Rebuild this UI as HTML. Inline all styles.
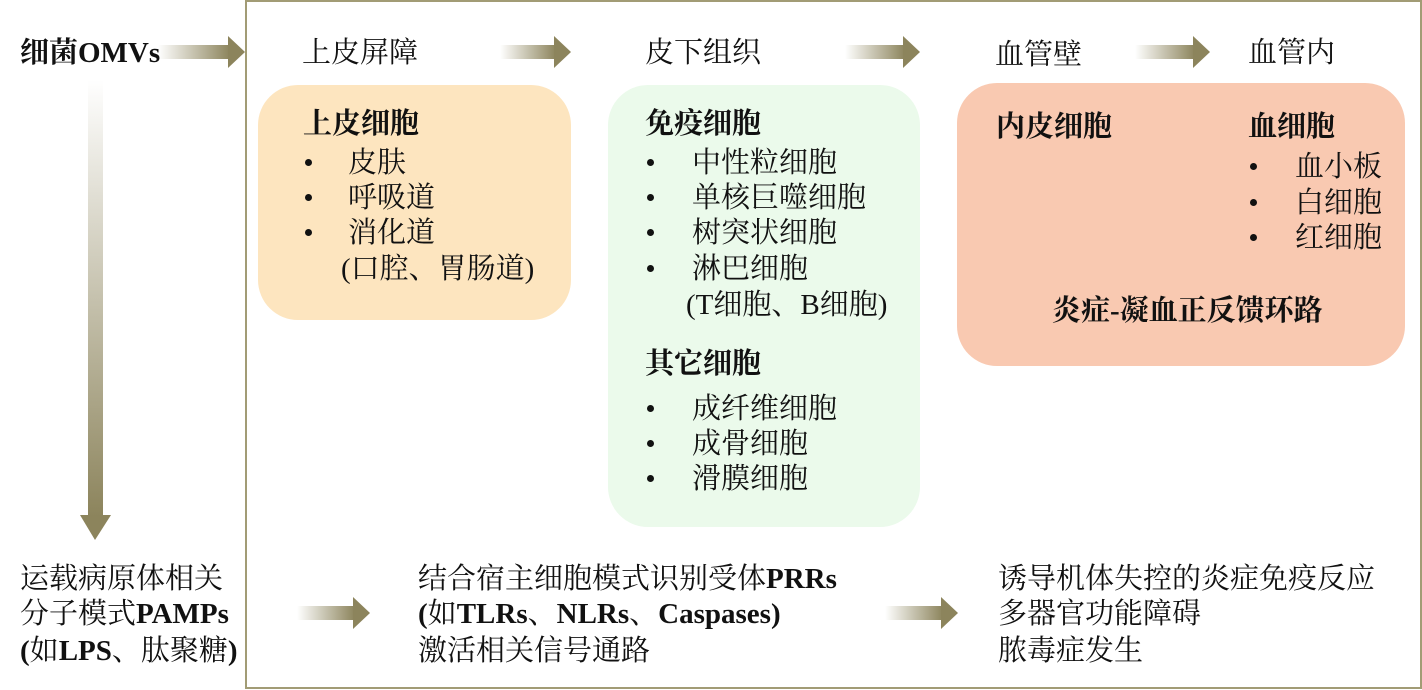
<!DOCTYPE html>
<html><head><meta charset="utf-8"><style>
body{margin:0;width:1422px;height:690px;background:#fff;position:relative;overflow:hidden;font-family:"Liberation Serif","Noto Serif CJK SC",serif;font-size:29px;color:#111}
.t{position:absolute;white-space:nowrap;line-height:34px}
.b{font-weight:bold}
.box{position:absolute;border-radius:40px}
.dot{position:absolute;width:7px;height:7px;border-radius:50%;background:#111}
</style></head><body>
<div style="position:absolute;left:245px;top:0;width:1173px;height:685px;border:2px solid #a29c75"></div>
<div class="box" style="left:258px;top:85px;width:313px;height:235px;background:#fde5bf"></div>
<div class="box" style="left:608px;top:85px;width:312px;height:442px;background:#ebfaeb"></div>
<div class="box" style="left:957px;top:83px;width:448px;height:283px;background:#f9c9b1"></div>
<svg style="position:absolute;left:0;top:0" width="1422" height="690">
<defs>
<linearGradient id="gh" x1="0" x2="1" y1="0" y2="0"><stop offset="0" stop-color="#fff"/><stop offset="1" stop-color="#8c845c"/></linearGradient>
<linearGradient id="gv" x1="0" x2="0" y1="0" y2="1"><stop offset="0" stop-color="#fff"/><stop offset="1" stop-color="#8c845c"/></linearGradient>
</defs>
<g fill="#8c845c">
<rect x="158" y="45" width="72" height="14" fill="url(#gh)"/><polygon points="228,36 245,52 228,68"/>
<rect x="500" y="45" width="56" height="14" fill="url(#gh)"/><polygon points="554,36 571,52 554,68"/>
<rect x="845" y="45" width="60" height="14" fill="url(#gh)"/><polygon points="903,36 920,52 903,68"/>
<rect x="1135" y="45" width="60" height="14" fill="url(#gh)"/><polygon points="1193,36 1210,52 1193,68"/>
<rect x="297" y="606" width="58" height="14" fill="url(#gh)"/><polygon points="353,597 370,613 353,629"/>
<rect x="885" y="606" width="58" height="14" fill="url(#gh)"/><polygon points="941,597 958,613 941,629"/>
<rect x="88" y="80" width="15" height="437" fill="url(#gv)"/><polygon points="80,515 111,515 95,540"/>
</g>
</svg>
<div class="t b" style="left:20px;top:36px">细菌OMVs</div>
<div class="t" style="left:302px;top:36px">上皮屏障</div>
<div class="t" style="left:645px;top:36px">皮下组织</div>
<div class="t" style="left:995px;top:38px">血管壁</div>
<div class="t" style="left:1248px;top:36px">血管内</div>

<div class="t b" style="left:303px;top:107px">上皮细胞</div>
<div class="dot" style="left:305px;top:159px"></div><div class="t" style="left:348px;top:146px">皮肤</div>
<div class="dot" style="left:305px;top:194px"></div><div class="t" style="left:348px;top:181px">呼吸道</div>
<div class="dot" style="left:305px;top:229px"></div><div class="t" style="left:348px;top:216px">消化道</div>
<div class="t" style="left:341px;top:252px">(口腔、胃肠道)</div>

<div class="t b" style="left:645px;top:107px">免疫细胞</div>
<div class="dot" style="left:647px;top:159px"></div><div class="t" style="left:692px;top:146px">中性粒细胞</div>
<div class="dot" style="left:647px;top:194px"></div><div class="t" style="left:692px;top:181px">单核巨噬细胞</div>
<div class="dot" style="left:647px;top:229px"></div><div class="t" style="left:692px;top:216px">树突状细胞</div>
<div class="dot" style="left:647px;top:265px"></div><div class="t" style="left:692px;top:252px">淋巴细胞</div>
<div class="t" style="left:686px;top:288px">(T细胞、B细胞)</div>
<div class="t b" style="left:645px;top:347px">其它细胞</div>
<div class="dot" style="left:647px;top:405px"></div><div class="t" style="left:692px;top:392px">成纤维细胞</div>
<div class="dot" style="left:647px;top:440px"></div><div class="t" style="left:692px;top:427px">成骨细胞</div>
<div class="dot" style="left:647px;top:475px"></div><div class="t" style="left:692px;top:462px">滑膜细胞</div>

<div class="t b" style="left:996px;top:110px">内皮细胞</div>
<div class="t b" style="left:1248px;top:110px">血细胞</div>
<div class="dot" style="left:1250px;top:163px"></div><div class="t" style="left:1295px;top:150px">血小板</div>
<div class="dot" style="left:1250px;top:199px"></div><div class="t" style="left:1295px;top:186px">白细胞</div>
<div class="dot" style="left:1250px;top:234px"></div><div class="t" style="left:1295px;top:221px">红细胞</div>
<div class="t b" style="left:1052px;top:294px">炎症-凝血正反馈环路</div>

<div class="t" style="left:20px;top:562px">运载病原体相关</div>
<div class="t" style="left:20px;top:597px">分子模式<b>PAMPs</b></div>
<div class="t" style="left:20px;top:634px"><b>(</b>如<b>LPS</b>、肽聚糖<b>)</b></div>
<div class="t" style="left:418px;top:562px">结合宿主细胞模式识别受体<b>PRRs</b></div>
<div class="t" style="left:418px;top:597px"><b>(</b>如<b>TLRs</b>、<b>NLRs</b>、<b>Caspases)</b></div>
<div class="t" style="left:418px;top:634px">激活相关信号通路</div>
<div class="t" style="left:998px;top:562px">诱导机体失控的炎症免疫反应</div>
<div class="t" style="left:998px;top:597px">多器官功能障碍</div>
<div class="t" style="left:998px;top:634px">脓毒症发生</div>
</body></html>
